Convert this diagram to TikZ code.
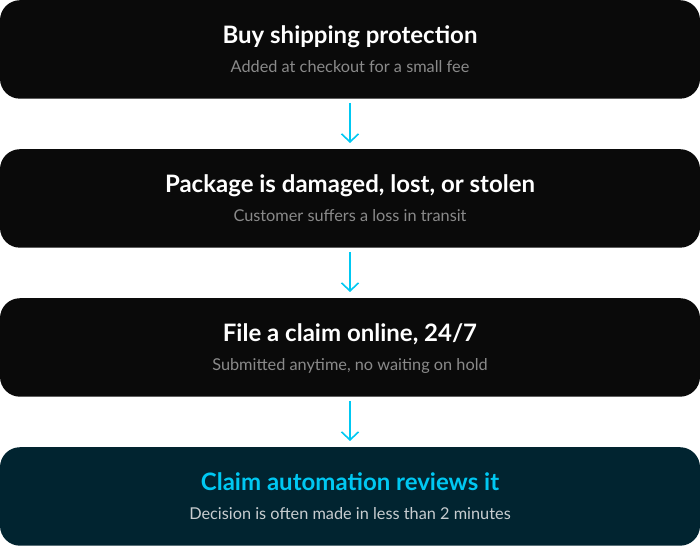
\documentclass[tikz,border=0pt]{standalone}
\usepackage{fontspec}
\setmainfont{Lato}
\usetikzlibrary{arrows.meta}
\definecolor{boxblack}{HTML}{0A0A0A}
\definecolor{boxteal}{HTML}{012430}
\definecolor{accent}{HTML}{00C8F2}
\definecolor{subgray}{HTML}{8A8A8A}
\definecolor{sublight}{HTML}{C8CDD0}
\tikzset{
  stepbox/.style={rectangle, rounded corners=20pt, minimum width=700pt, minimum height=98.5pt, inner sep=0pt, fill=boxblack, anchor=north},
  lastbox/.style={stepbox, fill=boxteal},
  ttl/.style={anchor=base, font=\fontsize{24}{28}\selectfont\bfseries, text=white, inner sep=0pt},
  sub/.style={anchor=base, font=\fontsize{16.3}{19}\selectfont, text=subgray, inner sep=0pt},
  arr/.style={draw=accent, line width=1.6pt, -{Straight Barb[length=8pt,width=17pt,line width=1.6pt]}}
}
\begin{document}
\begin{tikzpicture}[x=1pt,y=1pt]
\useasboundingbox (0,0) rectangle (700,549);
\node[stepbox] (b1) at (350,549) {};
\node[stepbox] (b2) at (350,400) {};
\node[stepbox] (b3) at (350,251) {};
\node[lastbox] (b4) at (350,102) {};
\node[ttl] (t1) at ([yshift=5.5pt]b1.center) {Buy shipping protection};
\node[sub] (s1) at ([yshift=-23pt]b1.center) {Added at checkout for a small fee};
\node[ttl] (t2) at ([yshift=5.5pt]b2.center) {Package is damaged, lost, or stolen};
\node[sub] (s2) at ([yshift=-23pt]b2.center) {Customer suffers a loss in transit};
\node[ttl] (t3) at ([yshift=5.5pt]b3.center) {File a claim online, 24/7};
\node[sub] (s3) at ([yshift=-23pt]b3.center) {Submitted anytime, no waiting on hold};
\node[ttl, text=accent] (t4) at ([yshift=5.5pt]b4.center) {Claim automation reviews it};
\node[sub, text=sublight] (s4) at ([yshift=-23pt]b4.center) {Decision is often made in less than 2 minutes};
\draw[arr] ([yshift=-4pt]b1.south) -- ([yshift=6pt]b2.north);
\draw[arr] ([yshift=-4pt]b2.south) -- ([yshift=6pt]b3.north);
\draw[arr] ([yshift=-4pt]b3.south) -- ([yshift=6pt]b4.north);
\end{tikzpicture}
\end{document}
